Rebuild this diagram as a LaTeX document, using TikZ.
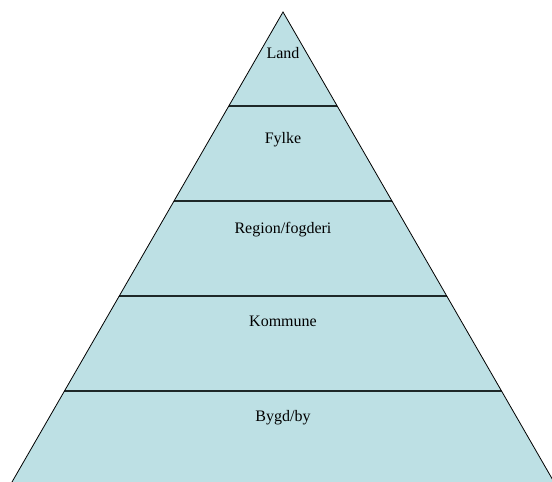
\documentclass[tikz,border=0pt]{standalone}
\usepackage{fontspec}
\setmainfont{Liberation Serif}
\definecolor{pyrfill}{RGB}{189,224,228}
\definecolor{pyrline}{RGB}{30,40,40}
\tikzset{
  band label/.style={font=\fontsize{16}{18}\selectfont, text=black, anchor=base, inner sep=0pt},
  divider/.style={draw=pyrline, line width=1.6pt},
  edge/.style={draw=black, line width=0.8pt}
}
\begin{document}
\begin{tikzpicture}[x=1pt,y=-1pt]
\useasboundingbox (0,0) rectangle (552,482);
\coordinate (apex) at (283,12);
\coordinate (bl) at (12,482);
\coordinate (br) at (554,482);
\fill[pyrfill] (apex) -- (bl) -- (br) -- cycle;
\begin{scope}
\clip (apex) -- (bl) -- (br) -- cycle;
\foreach \y in {106,201,296,391}{
  \draw[divider] (0,\y) -- (552,\y);
}
\end{scope}
\draw[edge] (bl) -- (apex) -- (br);
\node[band label] (land) at (283,58) {Land};
\node[band label] (fylke) at (283,143) {Fylke};
\node[band label] (region) at (283,233) {Region/fogderi};
\node[band label] (kommune) at (283,326) {Kommune};
\node[band label] (bygd) at (283,421) {Bygd/by};
\end{tikzpicture}
\end{document}
